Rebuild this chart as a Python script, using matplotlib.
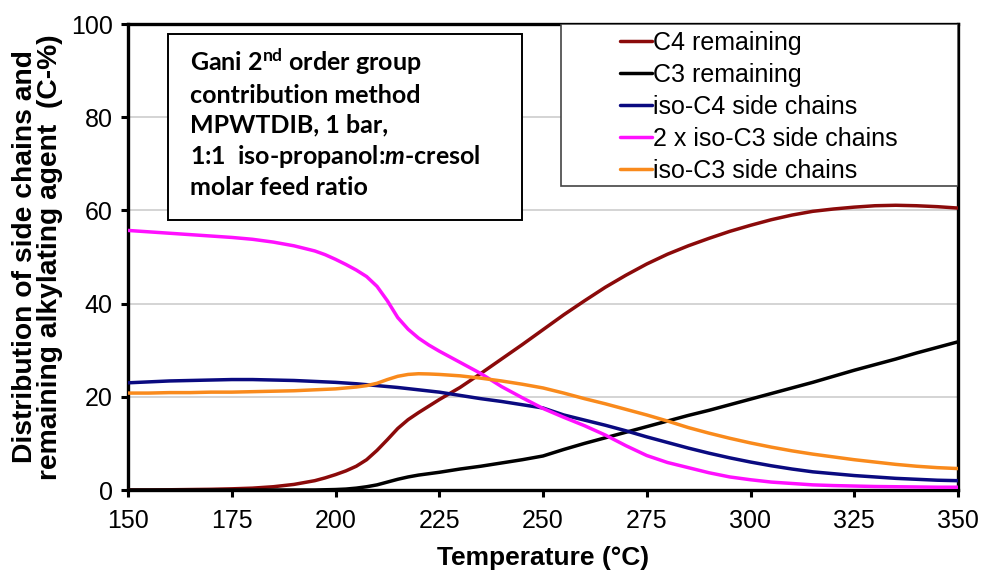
import matplotlib
matplotlib.use("Agg")
import matplotlib.pyplot as plt
from matplotlib.patches import Rectangle

# Temperature grid (°C), finer through the steep region around 200-230 °C
temperature = [150, 155, 160, 165, 170, 175, 180, 185, 190,
               195, 197.5, 200, 202.5, 205, 207.5, 210, 212.5, 215, 217.5,
               220, 222.5, 225, 227.5, 230,
               235, 240, 245, 250, 255, 260, 265, 270, 275, 280, 285, 290,
               295, 300, 305, 310, 315, 320, 325, 330, 335, 340, 345, 350]

# C-% values per series
c4_remaining = [0.0, 0.0, 0.05, 0.1, 0.15, 0.25, 0.4, 0.7, 1.2,
                2.0, 2.6, 3.3, 4.1, 5.1, 6.5, 8.5, 10.8, 13.2, 15.1,
                16.6, 18.0, 19.4, 20.7, 22.0,
                25.0, 28.1, 31.2, 34.4, 37.6, 40.6, 43.5, 46.1, 48.5, 50.6,
                52.4, 54.0, 55.5, 56.8, 58.0, 59.0, 59.8, 60.3, 60.7, 61.0,
                61.1, 61.0, 60.8, 60.5]
c3_remaining = [0.0, 0.0, 0.0, 0.0, 0.0, 0.0, 0.0, 0.0, 0.0,
                0.0, 0.05, 0.1, 0.2, 0.4, 0.7, 1.1, 1.7, 2.3, 2.8,
                3.2, 3.5, 3.8, 4.15, 4.5,
                5.1, 5.8, 6.5, 7.3, 8.7, 10.0, 11.2, 12.4, 13.6, 14.8,
                16.0, 17.1, 18.3, 19.5, 20.7, 21.9, 23.1, 24.4, 25.7, 26.9,
                28.1, 29.4, 30.6, 31.8]
iso_c4_side = [23.0, 23.2, 23.4, 23.5, 23.6, 23.7, 23.7, 23.6, 23.5,
               23.3, 23.2, 23.1, 22.95, 22.8, 22.6, 22.4, 22.2, 22.0, 21.75,
               21.5, 21.25, 21.0, 20.65, 20.3,
               19.6, 19.0, 18.3, 17.6, 16.1, 15.0, 13.9, 12.7, 11.4, 10.2,
               9.0, 7.9, 6.9, 6.0, 5.2, 4.5, 3.9, 3.5, 3.1, 2.8,
               2.5, 2.3, 2.1, 2.0]
iso_c3_side_x2 = [55.7, 55.4, 55.1, 54.8, 54.5, 54.2, 53.8, 53.2, 52.4,
                  51.3, 50.5, 49.5, 48.4, 47.2, 45.8, 43.7, 40.6, 37.0, 34.5,
                  32.6, 31.1, 29.8, 28.6, 27.4,
                  25.0, 22.2, 19.8, 17.5, 15.6, 13.8, 11.8, 9.5, 7.4, 5.9,
                  4.8, 3.7, 2.8, 2.2, 1.7, 1.4, 1.1, 0.95, 0.85, 0.75,
                  0.7, 0.65, 0.6, 0.6]
iso_c3_side = [20.8, 20.8, 20.9, 20.9, 21.0, 21.0, 21.1, 21.2, 21.3,
               21.5, 21.6, 21.7, 21.9, 22.1, 22.4, 22.9, 23.7, 24.4, 24.8,
               24.95, 24.9, 24.8, 24.65, 24.5,
               24.0, 23.4, 22.7, 21.9, 20.8, 19.6, 18.5, 17.3, 16.1, 14.8,
               13.4, 12.2, 11.1, 10.1, 9.2, 8.4, 7.7, 7.1, 6.5, 6.0,
               5.5, 5.1, 4.8, 4.6]

series_labels = ["C4 remaining", "C3 remaining", "iso-C4 side chains",
                 "2 x iso-C3 side chains", "iso-C3 side chains"]
series_colors = ["#8B0A0A", "#000000", "#0A0A80", "#FF10FF", "#F98A1C"]

x_ticks = [150, 175, 200, 225, 250, 275, 300, 325, 350]
y_ticks = [0, 20, 40, 60, 80, 100]

plt.rcParams["font.family"] = ["Liberation Sans", "DejaVu Sans"]
plt.rcParams["mathtext.fontset"] = "custom"
plt.rcParams["mathtext.rm"] = "Lato:bold"
plt.rcParams["mathtext.it"] = "Lato:bold:italic"
plt.rcParams["mathtext.bf"] = "Lato:bold"

fig = plt.figure(figsize=(9.84, 5.75), dpi=100)
ax = fig.add_axes([128 / 984, 85 / 575, 830 / 984, 466 / 575])

for values, label, color in zip(
        [c4_remaining, c3_remaining, iso_c4_side, iso_c3_side_x2, iso_c3_side],
        series_labels, series_colors):
    ax.plot(temperature, values, color=color, lw=2.5, label=label,
            solid_capstyle="round", solid_joinstyle="round", zorder=3)

ax.set_xlim(150, 350)
ax.set_ylim(0, 100)
ax.set_xticks(x_ticks)
ax.set_yticks(y_ticks)
ax.tick_params(axis="both", direction="out", length=5, width=2.2,
               labelsize=18, color="black")
ax.tick_params(axis="x", pad=9)
ax.tick_params(axis="y", pad=6)
for s in ax.spines.values():
    s.set_linewidth(2.4)
    s.set_color("black")
ax.yaxis.grid(True, color="#d4d4d4", lw=1.4)
ax.set_axisbelow(True)

ax.set_xlabel("Temperature (°C)", fontsize=19, fontweight="bold", labelpad=9)
ax.set_ylabel("Distribution of side chains and\nremaining alkylating agent  (C-%)",
              fontsize=20.3, fontweight="bold", labelpad=6, linespacing=0.92)

# Annotation box with the model conditions
ax.add_patch(Rectangle((40 / 830, 270 / 466), 354 / 830, 186 / 466,
                       transform=ax.transAxes, fill=True, facecolor="white",
                       edgecolor="black", lw=1.4, zorder=4))
ax.text(62 / 830, 443 / 466,
        "Gani 2$^{\\mathrm{nd}}$ order group\n"
        "contribution method\n"
        "MPWTDIB, 1 bar,\n"
        "1:1  iso-propanol:$\\mathit{m}$-cresol\n"
        "molar feed ratio",
        transform=ax.transAxes, fontsize=18, family="Lato", fontweight="bold",
        va="top", ha="left", linespacing=1.33, zorder=5)

# Legend with a fixed-size frame
ax.add_patch(Rectangle((433 / 830, 304 / 466), 397 / 830, 162 / 466,
                       transform=ax.transAxes, fill=True, facecolor="white",
                       edgecolor="#444444", lw=1.2, zorder=4))
leg = ax.legend(loc="upper left", bbox_to_anchor=(492 / 830, 459 / 466),
                frameon=False, fontsize=18, handlelength=1.28,
                handletextpad=0.05, labelspacing=0.32, borderpad=0.0,
                borderaxespad=0.0)
leg.set_zorder(6)

fig.savefig("out.png", dpi=100)
